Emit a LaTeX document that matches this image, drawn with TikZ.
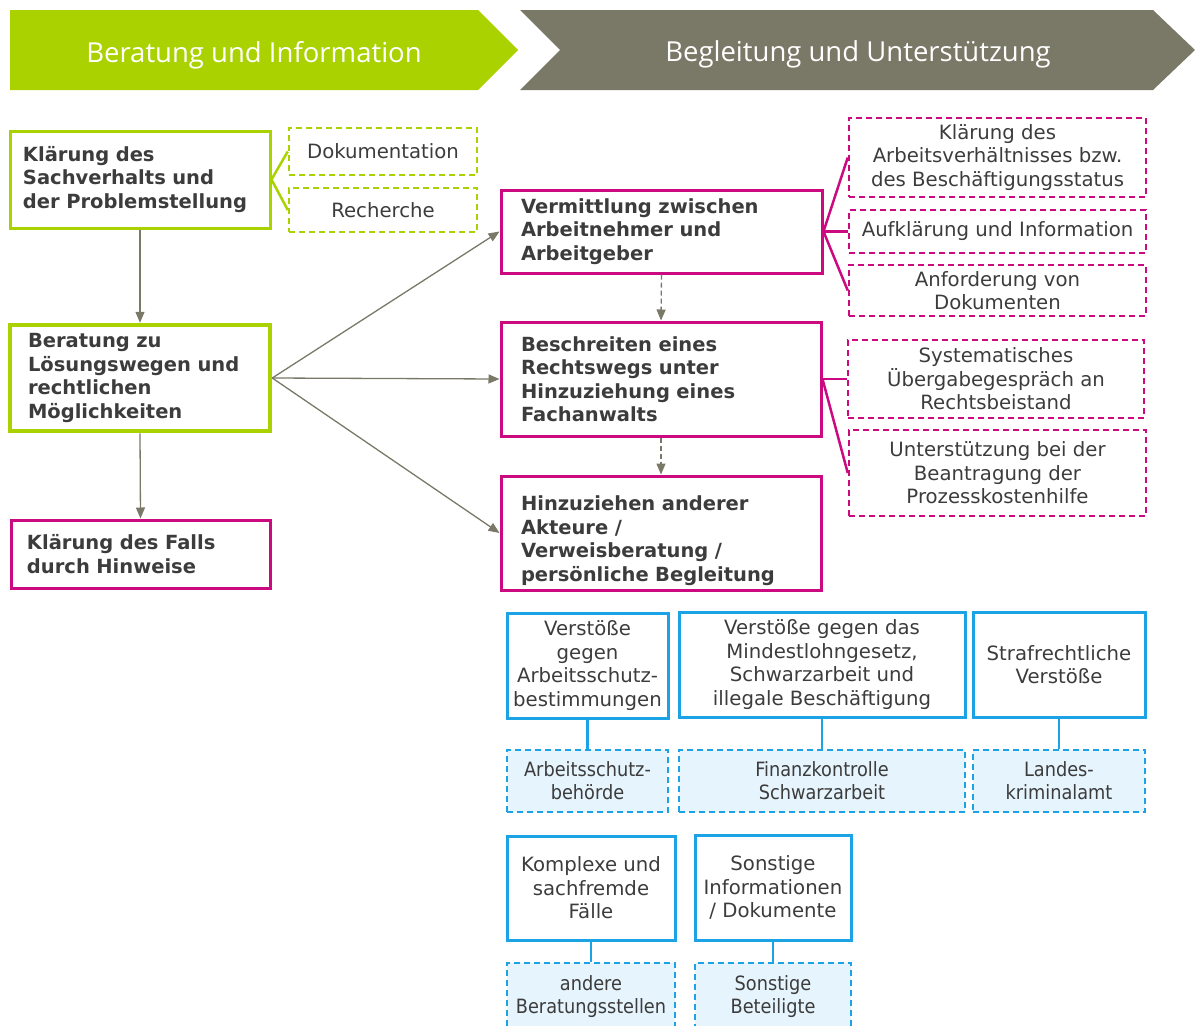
\documentclass[tikz,border=0pt]{standalone}
\usepackage{fontspec}
\setmainfont{DejaVu Sans}
\newfontfamily\condfont{DejaVu Sans Condensed}
\newfontfamily\headfont{Open Sans}
\usepackage{xcolor}
\usetikzlibrary{arrows.meta}

\definecolor{lime}{HTML}{AAD200}
\definecolor{olive}{HTML}{7A7866}
\definecolor{berry}{HTML}{CC0A7F}
\definecolor{sky}{HTML}{1CA3E6}
\definecolor{skyfill}{HTML}{E6F4FD}
\definecolor{ink}{HTML}{3C3C3C}

\begin{document}
\begin{tikzpicture}[x=1pt, y=-1pt,
    txt/.style={text=ink, font=\fontsize{19.7}{23.5}\selectfont, inner sep=0pt},
    mainbox/.style={txt, draw, line width=3pt, font=\bfseries\fontsize{19.5}{23.5}\selectfont,
      align=left, minimum width=#1, text width=#1-36pt, inner xsep=18pt},
    sidebox/.style={txt, draw, dashed, dash pattern=on 6pt off 4pt, line width=2.5pt,
      align=center, minimum width=#1},
    bluebox/.style={txt, draw=sky, line width=3pt, align=center, minimum width=#1},
    bluedash/.style={txt, draw=sky, fill=skyfill, dashed, dash pattern=on 6pt off 4pt,
      line width=2.5pt, align=center, minimum width=#1,
      font=\condfont\fontsize{19.7}{23}\selectfont},
    arr/.style={draw=olive, line width=1.3pt, -{Triangle[length=11pt,width=9pt]}},
    link/.style={line width=2.5pt}]
    \useasboundingbox (0,0) rectangle (1195,1026);

    % headers
    \fill[lime] (10,10) -- (478,10) -- (518,50) -- (478,90) -- (10,90) -- cycle;
    \fill[olive] (520,10) -- (1153,10) -- (1195,50) -- (1153,90) -- (520,90) -- (560,50) -- cycle;
    \node[text=white, font=\headfont\fontsize{27.5}{32}\selectfont] (hleft) at (254,55) {Beratung und Information};
    \node[text=white, font=\headfont\fontsize{27.5}{32}\selectfont] (hright) at (858,54) {Begleitung und Unterstützung};

    % Beratung und Information
    \node[mainbox=260pt, draw=lime, minimum height=97pt, inner xsep=13pt, text width=234pt] (klar) at (140,179.5)
      {Klärung des\\Sachverhalts und\\der Problemstellung};
    \node[sidebox=188pt, draw=lime, minimum height=47pt] (doku) at (383,151.5) {Dokumentation};
    \node[sidebox=188pt, draw=lime, minimum height=44pt] (rech) at (383,210) {Recherche};
    \node[mainbox=260pt, draw=lime, line width=4.5pt, minimum height=106pt] (bera) at (140,378)
      {Beratung zu\\Lösungswegen und\\rechtlichen\\Möglichkeiten};
    \node[mainbox=259pt, draw=berry, minimum height=68pt, inner xsep=16pt, text width=227pt] (fall) at (140.5,554)
      {Klärung des Falls\\durch Hinweise};

    \draw[link, lime] (klar.east) -- (doku.west);
    \draw[link, lime] (klar.east) -- (rech.west);
    \draw[arr] (klar.south) -- (bera.north);
    \draw[arr] (bera.south) -- (fall.north);

    % Begleitung und Unterstuetzung
    \node[mainbox=321pt, draw=berry, minimum height=83pt, inner xsep=20pt, text width=281pt] (verm) at (661.5,231.5)
      {Vermittlung zwischen\\Arbeitnehmer und\\Arbeitgeber};
    \node[mainbox=320pt, draw=berry, minimum height=114pt, inner xsep=20pt, text width=280pt] (recht) at (661,379)
      {Beschreiten eines\\Rechtswegs unter\\Hinzuziehung eines\\Fachanwalts};
    \node[mainbox=320pt, draw=berry, minimum height=114pt, inner xsep=20pt, text width=280pt] (akt) at (661,533)
      {\rule{0pt}{30pt}Hinzuziehen anderer\\Akteure /\\Verweisberatung /\\persönliche Begleitung};

    \draw[arr] (bera.east) -- (verm.west);
    \draw[arr] (bera.east) -- (recht.west);
    \draw[arr] (bera.east) -- (akt.west);
    \draw[arr, dash pattern=on 5pt off 3pt] (verm.south) -- (recht.north);
    \draw[arr, dash pattern=on 5pt off 3pt] (recht.south) -- (akt.north);

    \node[sidebox=297pt, draw=berry, minimum height=79pt] (status) at (997.5,157.5)
      {Klärung des\\Arbeitsverhältnisses bzw.\\des Beschäftigungsstatus};
    \node[sidebox=297pt, draw=berry, minimum height=43pt] (aufk) at (997.5,231.5)
      {Aufklärung und Information};
    \node[sidebox=297pt, draw=berry, minimum height=51pt] (anf) at (997.5,290.5)
      {Anforderung von\\Dokumenten};
    \node[sidebox=296pt, draw=berry, minimum height=78pt] (ueber) at (996,379)
      {Systematisches\\Übergabegespräch an\\Rechtsbeistand};
    \node[sidebox=297pt, draw=berry, minimum height=86pt] (pkh) at (997.5,473)
      {Unterstützung bei der\\Beantragung der\\Prozesskostenhilfe};

    \foreach \t in {status, aufk, anf}
      \draw[link, berry] (verm.east) -- (\t.west);
    \foreach \t in {ueber, pkh}
      \draw[link, berry] (recht.east) -- (\t.west);

    % Verweise
    \node[bluebox=161pt, minimum height=105pt] (schutz) at (587.5,665.5)
      {Verstöße\\gegen\\Arbeitsschutz-\\bestimmungen};
    \node[bluebox=286pt, minimum height=105pt] (mindest) at (822,664.5)
      {Verstöße gegen das\\Mindestlohngesetz,\\Schwarzarbeit und\\illegale Beschäftigung};
    \node[bluebox=172pt, minimum height=105pt] (straf) at (1059,664.5)
      {Strafrechtliche\\Verstöße};
    \node[bluedash=161pt, minimum height=62pt] (behoerde) at (587.5,781) {Arbeitsschutz-\\behörde};
    \node[bluedash=286pt, minimum height=62pt] (fks) at (822,781) {Finanzkontrolle\\Schwarzarbeit};
    \node[bluedash=172pt, minimum height=62pt] (lka) at (1059,781) {Landes-\\kriminalamt};

    \node[bluebox=168pt, minimum height=104pt] (komplex) at (591,888)
      {Komplexe und\\sachfremde\\Fälle};
    \node[bluebox=156pt, minimum height=105pt] (sonst) at (773,887.5)
      {Sonstige\\Informationen\\/ Dokumente};
    \node[bluedash=168pt, minimum height=67pt] (stellen) at (591,996.5) {andere\\Beratungsstellen};
    \node[bluedash=156pt, minimum height=67pt] (beteil) at (773,996.5) {Sonstige\\Beteiligte};

    \draw[link, sky] (schutz) -- (behoerde);
    \draw[link, sky] (mindest) -- (fks);
    \draw[link, sky] (straf) -- (lka);
    \draw[link, sky] (komplex) -- (stellen);
    \draw[link, sky] (sonst) -- (beteil);
\end{tikzpicture}
\end{document}
